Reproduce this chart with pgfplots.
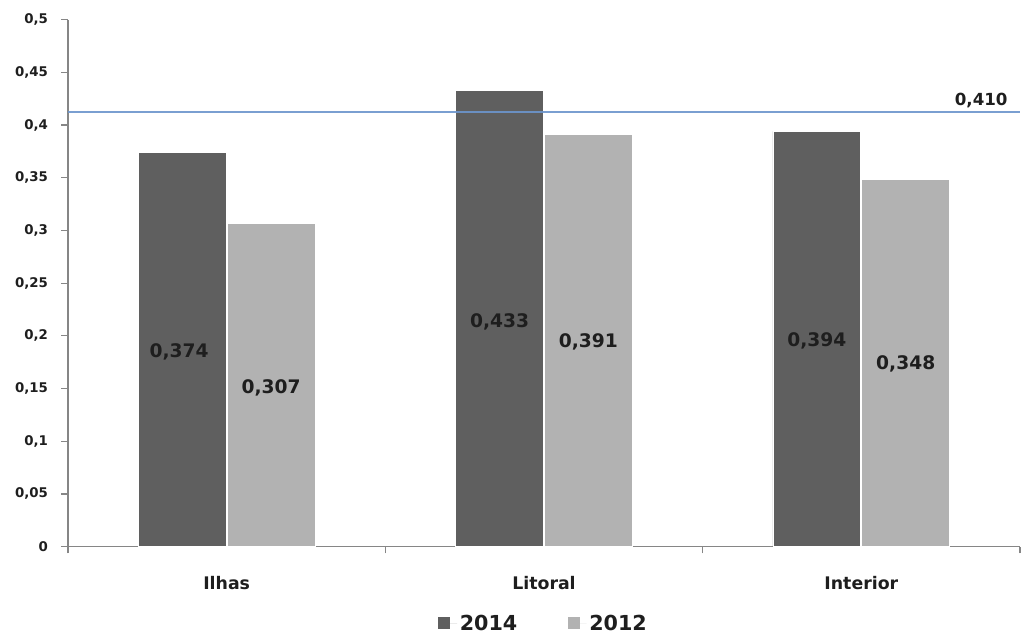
\documentclass[border=0pt]{standalone}
\usepackage{pgfplots}
\pgfplotsset{compat=1.18}
\usepackage{fontspec}
\setmainfont{DejaVu Sans}
\definecolor{darkbar}{RGB}{95,95,95}
\definecolor{lightbar}{RGB}{178,178,178}
\definecolor{refline}{RGB}{108,149,204}
\definecolor{axisgray}{RGB}{134,134,134}
\definecolor{txt}{RGB}{30,30,30}
\begin{document}
\begin{tikzpicture}
\useasboundingbox (-51pt,-67.5pt) rectangle (716.25pt,410pt);
\clip (-51pt,-67.5pt) rectangle (716.25pt,410pt);
\begin{axis}[
  scale only axis,
  width=714pt, height=395.25pt,
  xmin=-0.5, xmax=2.5, ymin=0, ymax=0.5,
  axis x line*=bottom, axis y line*=left,
  axis line style={axisgray, line width=0.9pt},
  tick align=outside,
  xtick={0,1,2},
  xticklabels={Ilhas, Litoral, Interior},
  major x tick style={draw=none},
  minor xtick={-0.5,0.5,1.5,2.5},
  minor tick length=5pt,
  minor x tick style={axisgray, line width=0.9pt},
  ytick={0,0.05,0.1,0.15,0.2,0.25,0.3,0.35,0.4,0.45,0.5},
  major tick length=5pt,
  y tick style={axisgray, line width=0.9pt},
  scaled y ticks=false,
  /pgf/number format/.cd, use comma, fixed, assume math mode=true,
  /pgfplots/.cd,
  yticklabel style={font=\bfseries\fontsize{10}{12}\selectfont, text=txt, xshift=-6.5pt},
  xticklabel style={font=\bfseries\fontsize{13}{15}\selectfont, text=txt, yshift=-14pt},
  legend style={at={(0.5,-0.146)}, anchor=center, draw=none, fill=none,
    legend columns=2, font=\bfseries\fontsize{15.5}{17}\selectfont, text=txt,
    /tikz/every even column/.append style={column sep=36pt}},
  legend image code/.code={\fill[#1,draw=none] (0pt,-4.4pt) rectangle (9pt,4.6pt);
    \path[draw=none] (0pt,0pt) -- (14pt,0pt);},
]
\addplot[ybar, bar width=0.277, bar shift=-0.14, fill=darkbar, draw=white, line width=0.6pt]
  coordinates {(0,0.374) (1,0.433) (2,0.394)};
\addlegendentry{2014}
\addplot[ybar, bar width=0.277, bar shift=0.14, fill=lightbar, draw=white, line width=0.6pt]
  coordinates {(0,0.307) (1,0.391) (2,0.348)};
\addlegendentry{2012}
\addplot[forget plot, refline, line width=1.5pt, opacity=0.9]
  coordinates {(-0.5,0.412) (2.5,0.412)};
\addplot[forget plot, only marks, mark=*, mark size=0pt,
  nodes near coords, point meta=explicit symbolic,
  nodes near coords style={anchor=center, font=\bfseries\fontsize{14}{16}\selectfont, text=txt}]
  coordinates {(-0.15,0.185)[0,374] (0.14,0.151)[0,307]
               (0.86,0.2135)[0,433] (1.14,0.1945)[0,391]
               (1.86,0.195)[0,394] (2.14,0.173)[0,348]};
\node[anchor=south east, font=\bfseries\fontsize{12.5}{14}\selectfont, text=txt, inner sep=2pt]
  at (axis cs:2.47,0.414) {0,410};
\end{axis}
\end{tikzpicture}
\end{document}
